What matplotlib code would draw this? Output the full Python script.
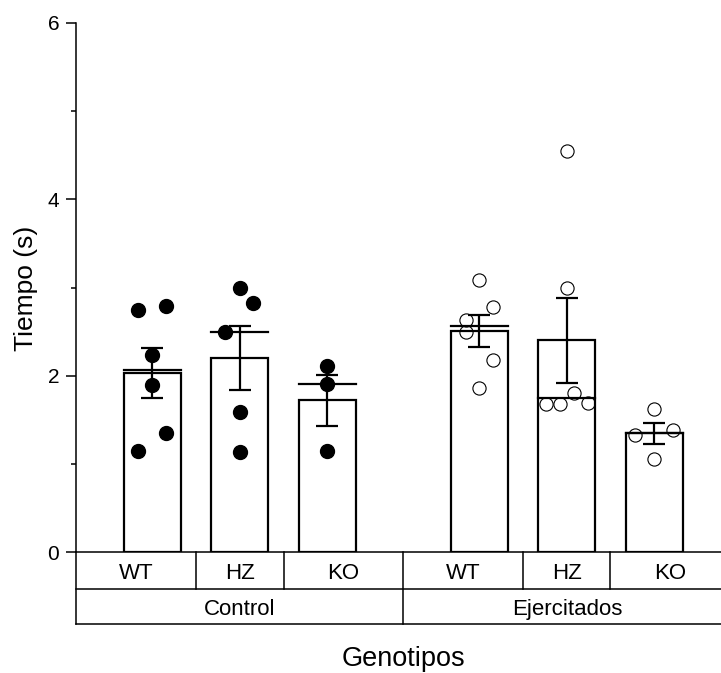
import numpy as np
import matplotlib
matplotlib.use('Agg')
import matplotlib.pyplot as plt
import matplotlib.transforms as mtransforms

plt.rcParams['font.family'] = ['Liberation Sans', 'DejaVu Sans']

# data [s]
groups = ['Control', 'Ejercitados']
genotypes = ['WT', 'HZ', 'KO']

ctrl_wt = [2.75, 2.79, 2.24, 1.89, 1.35, 1.15]
ctrl_hz = [2.99, 2.82, 2.49, 1.59, 1.13]
ctrl_ko = [2.11, 1.90, 1.15]
ejer_wt = [3.09, 2.78, 2.63, 2.49, 2.18, 1.86]
ejer_hz = [4.55, 3.00, 1.80, 1.68, 1.68, 1.69]
ejer_ko = [1.62, 1.33, 1.38, 1.05]

# horizontal spread of the dots (x units)
ctrl_wt_dx = [-0.16, 0.155, 0, 0, 0.155, -0.16]
ctrl_hz_dx = [0, 0.155, -0.165, 0, 0]
ctrl_ko_dx = [0, 0, 0]
ejer_wt_dx = [0, 0.16, -0.155, -0.155, 0.16, 0]
ejer_hz_dx = [0, 0, 0.078, -0.238, -0.078, 0.238]
ejer_ko_dx = [0, -0.22, 0.215, 0]

samples = [ctrl_wt, ctrl_hz, ctrl_ko, ejer_wt, ejer_hz, ejer_ko]
spreads = [ctrl_wt_dx, ctrl_hz_dx, ctrl_ko_dx, ejer_wt_dx, ejer_hz_dx, ejer_ko_dx]
filled = [True, True, True, False, False, False]

positions = [0, 1, 2, 3.74, 4.74, 5.74]
bar_w = 0.65
x_min, x_max = -0.874, 6.614

means = [np.mean(s) for s in samples]
medians = [np.median(s) for s in samples]
sems = [np.std(s, ddof=1) / np.sqrt(len(s)) for s in samples]

fig = plt.figure(figsize=(7.21, 6.73), dpi=100)
ax = fig.add_axes([76 / 721, 121 / 673, 654.5 / 721, 529 / 673])

ax.bar(positions, means, width=bar_w, color='white', edgecolor='black', linewidth=1.6, zorder=2)
for p, m in zip(positions, medians):
    ax.plot([p - bar_w / 2, p + bar_w / 2], [m, m], color='black', lw=1.6, zorder=3)
ax.errorbar(positions, means, yerr=sems, fmt='none', ecolor='black', elinewidth=1.6,
            capsize=8, capthick=1.6, zorder=3)

for p, s, dx, f in zip(positions, samples, spreads, filled):
    xs = [p + d for d in dx]
    if f:
        ax.plot(xs, s, 'o', color='black', markersize=10, zorder=4)
    else:
        ax.plot(xs, s, 'o', markerfacecolor='none', markeredgecolor='black',
                markersize=9.5, markeredgewidth=0.8, zorder=4)

ax.set_xlim(x_min, x_max)
ax.set_ylim(0, 6)
ax.set_yticks([0, 2, 4, 6])
ax.set_yticks([1, 3, 5], minor=True)
ax.set_xticks([])
ax.tick_params(axis='y', which='major', labelsize=15, length=7, width=1.1, pad=5)
ax.tick_params(axis='y', which='minor', length=3.5, width=1.1)
for side in ['top', 'right']:
    ax.spines[side].set_visible(False)
for side in ['left', 'bottom']:
    ax.spines[side].set_linewidth(1.1)

# category table under the axis
tr = mtransforms.blended_transform_factory(ax.transData, ax.transAxes)
row1 = (552 - 589) / 529
row2 = (552 - 624) / 529
base1 = (552 - 579) / 529
base2 = (552 - 615) / 529
line_kw = dict(color='black', lw=1.1, transform=tr, clip_on=False)

ax.plot([x_min, x_max], [row1, row1], **line_kw)
ax.plot([x_min, x_max], [row2, row2], **line_kw)
ax.plot([x_min, x_min], [0, row2], **line_kw)
ax.plot([x_max, x_max], [0, row2], **line_kw)

group_split = (positions[2] + positions[3]) / 2
ax.plot([group_split, group_split], [0, row2], **line_kw)

cell_edges = [x_min, 0.5, 1.5, group_split, 4.24, 5.24, x_max]
for e in [0.5, 1.5, 4.24, 5.24]:
    ax.plot([e, e], [0, row1], **line_kw)
for i in range(6):
    cx = (cell_edges[i] + cell_edges[i + 1]) / 2
    ax.text(cx, base1, genotypes[i % 3], ha='center', va='baseline', fontsize=16, transform=tr)

ax.text((x_min + group_split) / 2, base2, groups[0], ha='center', va='baseline', fontsize=16, transform=tr)
ax.text((group_split + x_max) / 2, base2, groups[1], ha='center', va='baseline', fontsize=16, transform=tr)

fig.text(26 / 721, 1 - 288 / 673, 'Tiempo (s)', rotation=90, ha='center', va='center', fontsize=19)
fig.text(403 / 721, 1 - 659 / 673, 'Genotipos', ha='center', va='center', fontsize=19.5)

fig.savefig('out.png', dpi=100)
